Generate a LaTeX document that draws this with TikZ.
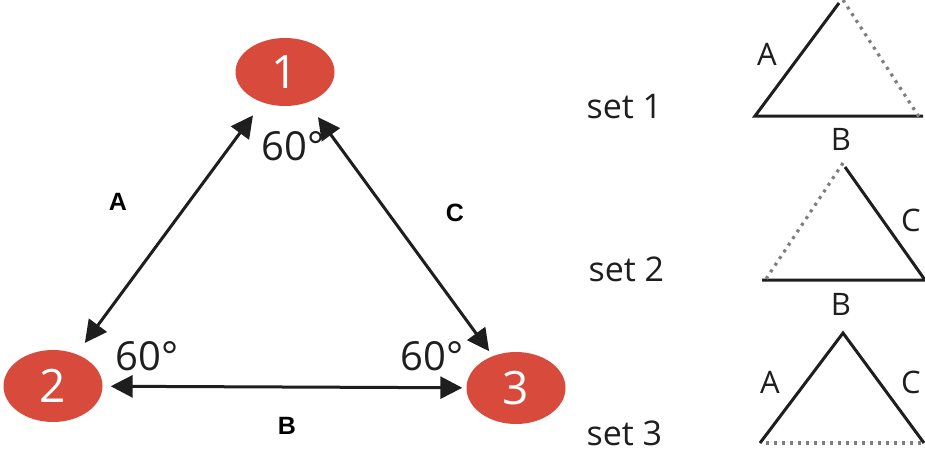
\documentclass[tikz,border=0pt]{standalone}
\usepackage{fontspec}
\setmainfont{Open Sans}
\newfontfamily\boldlab{Liberation Sans}
\usetikzlibrary{arrows.meta,shapes.geometric}
\definecolor{nodered}{HTML}{D84A3B}
\definecolor{linegray}{HTML}{1E1E1E}
\definecolor{dotgray}{HTML}{7E7E7E}
\tikzset{
  vertex/.style={ellipse,fill=nodered,draw=none,minimum width=99pt,minimum height=72pt,inner sep=0pt,text=white,font=\fontsize{46}{46}\selectfont},
  dbl/.style={line width=3pt,draw=linegray,{Triangle[length=22pt,width=22pt]}-{Triangle[length=22pt,width=22pt]}},
  sidelab/.style={font=\boldlab\bfseries\fontsize{25}{25}\selectfont,text=black},
  anglab/.style={font=\fontsize{40}{40}\selectfont,text=linegray},
  setlab/.style={font=\fontsize{34}{34}\selectfont,text=linegray,anchor=base west},
  trilab/.style={font=\fontsize{31}{31}\selectfont,text=linegray},
  solidside/.style={line width=3pt,draw=linegray},
  dotside/.style={line width=3.2pt,draw=dotgray,dash pattern=on 3pt off 5pt}
}
\begin{document}
\begin{tikzpicture}[x=1pt,y=-1pt]
\useasboundingbox (0,0) rectangle (925,456);
\fill[white] (0,0) rectangle (925,456);
% vertices
\node[vertex,minimum height=68pt] (n1) at (285,72) {1};
\node[vertex] (n2) at (53,386) {2};
\node[vertex] (n3) at (516,388) {3};
% connectors
\draw[dbl,shorten <=16pt,shorten >=14pt] (n1) -- (n2);
\draw[dbl,shorten <=18pt,shorten >=6pt] (n1) -- (n3);
\draw[dbl,shorten <=8pt,shorten >=4pt] (n2) -- (n3);
% labels
\node[sidelab] (la) at (118,202) {A};
\node[sidelab] (lc) at (455,213) {C};
\node[sidelab] (lb) at (287,426) {B};
\node[anglab] (a1) at (293,146) {60°};
\node[anglab] (a2) at (147,356) {60°};
\node[anglab] (a3) at (432,356) {60°};
% sets
\node[setlab] (s1) at (583,118) {set 1};
\node[setlab] (s2) at (585,281) {set 2};
\node[setlab] (s3) at (583,445) {set 3};
% set 1 triangle
\coordinate (t1l) at (755,116);
\coordinate (t1r) at (923,116);
\coordinate (t1a) at (839,3);
\draw[solidside] (t1r) -- (t1l) -- (t1a);
\draw[dotside] ([xshift=4pt,yshift=3pt]t1a) -- ([xshift=-2pt,yshift=-4pt]t1r);
\node[trilab] (t1A) at (767,54) {A};
\node[trilab] (t1B) at (841,139) {B};
% set 2 triangle
\coordinate (t2l) at (762,280);
\coordinate (t2r) at (925,280);
\coordinate (t2a) at (845,167);
\draw[solidside] (t2l) -- (t2r) -- (t2a);
\draw[dotside] ([xshift=-2pt,yshift=4pt]t2a) -- ([xshift=2pt,yshift=-2pt]t2l);
\node[trilab] (t2C) at (911,220) {C};
\node[trilab] (t2B) at (841,304) {B};
% set 3 triangle
\coordinate (t3l) at (760,443);
\coordinate (t3r) at (924,443);
\coordinate (t3a) at (843,333);
\draw[solidside] (t3l) -- (t3a) -- (t3r);
\draw[dotside] ([xshift=6pt]t3l) -- (t3r);
\node[trilab] (t3A) at (770,382) {A};
\node[trilab] (t3C) at (911,382) {C};
\end{tikzpicture}
\end{document}
